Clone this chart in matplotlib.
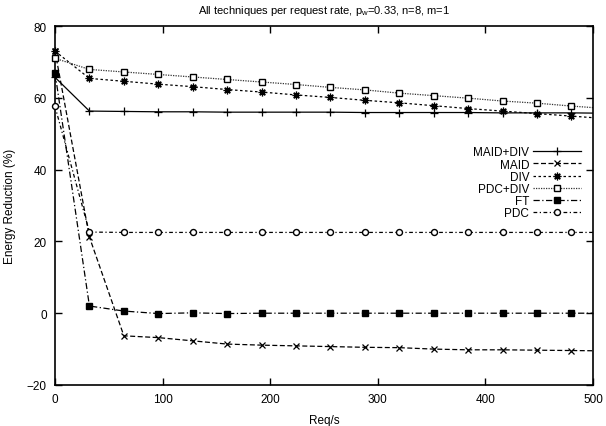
import matplotlib
matplotlib.use("Agg")
import matplotlib.pyplot as plt
from matplotlib.lines import Line2D
import numpy as np

plt.rcParams['font.family'] = ['Liberation Sans', 'DejaVu Sans']

req = [0, 32, 64, 96, 128, 160, 192, 224, 256, 288, 320, 352, 384, 416, 448, 480, 512]

maid_div = [65.7, 56.3, 56.2, 56.1, 56.1, 56.0, 56.0, 56.0, 56.0, 55.9, 55.9, 55.9, 55.9, 55.8, 55.8, 55.8, 55.7]
maid = [73.0, 21.2, -6.3, -6.8, -7.7, -8.6, -8.9, -9.1, -9.3, -9.5, -9.6, -10.0, -10.2, -10.2, -10.3, -10.4, -10.5]
div = [73.0, 65.4, 64.6, 63.8, 63.1, 62.3, 61.6, 60.8, 60.1, 59.3, 58.6, 57.8, 57.0, 56.3, 55.6, 54.9, 54.2]
pdc_div = [71.0, 67.9, 67.2, 66.5, 65.8, 65.1, 64.4, 63.7, 62.9, 62.2, 61.3, 60.6, 59.9, 59.1, 58.5, 57.7, 57.0]
ft = [67.0, 2.0, 0.6, -0.1, 0.1, -0.1, 0.0, 0.0, 0.0, 0.0, 0.0, 0.0, 0.0, 0.0, 0.0, 0.0, 0.0]
pdc = [57.6, 22.6, 22.5, 22.5, 22.5, 22.5, 22.5, 22.5, 22.5, 22.5, 22.5, 22.5, 22.5, 22.5, 22.5, 22.5, 22.5]

labels = ["MAID+DIV", "MAID", "DIV", "PDC+DIV", "FT", "PDC"]
series = [maid_div, maid, div, pdc_div, ft, pdc]

styles = [
    dict(ls='-', marker='+', ms=5.5, mfc='black', color='black', lw=0.9, mew=0.9),
    dict(ls=(0, (4, 2)), marker='x', ms=4, mfc='black', color='black', lw=0.9, mew=0.9),
    dict(ls=(0, (2, 2)), marker=(8, 2, 0), ms=5.5, mfc='black', color='black', lw=0.9, mew=0.9),
    dict(ls=(0, (1, 1)), marker='s', ms=4.3, mfc='white', color='#333333', mec='black', lw=0.9, mew=1.0),
    dict(ls=(0, (5, 2, 1, 2)), marker='s', ms=4.3, mfc='black', color='black', lw=0.9, mew=1.0),
    dict(ls=(0, (3, 2, 1, 2)), marker='o', ms=4.3, mfc='white', color='black', mec='black', lw=0.9, mew=1.0),
]

fig = plt.figure(figsize=(6.06, 4.27), dpi=100)
ax = fig.add_axes([55/606, 41/427, 538/606, 359/427])

xmax = 500
handles = []
for lab, vals, st in zip(labels, series, styles):
    x = np.array(req)
    y = np.array(vals)
    ax.plot(x, y, ls=st['ls'], color=st['color'], lw=st['lw'], clip_on=True, zorder=2)
    m = x <= xmax
    ax.plot(x[m], y[m], ls='none', marker=st['marker'], ms=st['ms'],
            mfc=st['mfc'], mec=st.get('mec', 'black'), mew=st['mew'], clip_on=False, zorder=3)
    handles.append(Line2D([0], [0], ls=st['ls'], color=st['color'], lw=st['lw'],
                          marker=st['marker'], ms=st['ms'], mfc=st['mfc'],
                          mec=st.get('mec', 'black'), mew=st['mew']))

ax.set_xlim(0, 500)
ax.set_ylim(-20, 80)
ax.set_xticks([0, 100, 200, 300, 400, 500])
ax.set_yticks([-20, 0, 20, 40, 60, 80])
ax.tick_params(direction='in', top=True, right=True, length=5, width=1.0,
               labelsize=8.5, pad=6, colors='black')
for s in ax.spines.values():
    s.set_linewidth(1.2)

ax.set_title("All techniques per request rate, p$_\\mathregular{w}$=0.33, n=8, m=1",
             fontsize=8, pad=9)
ax.set_xlabel("Req/s", fontsize=8.5, labelpad=6)
ax.set_ylabel("Energy Reduction (%)", fontsize=8.5, labelpad=8)

leg = ax.legend(handles, labels, loc='upper right', bbox_to_anchor=(0.977, 0.665),
                frameon=False, markerfirst=False, numpoints=1, fontsize=8.5,
                handlelength=4.0, handletextpad=0.35, labelspacing=0.02,
                borderpad=0.0, borderaxespad=0.0)

fig.savefig("out.png", dpi=100)
